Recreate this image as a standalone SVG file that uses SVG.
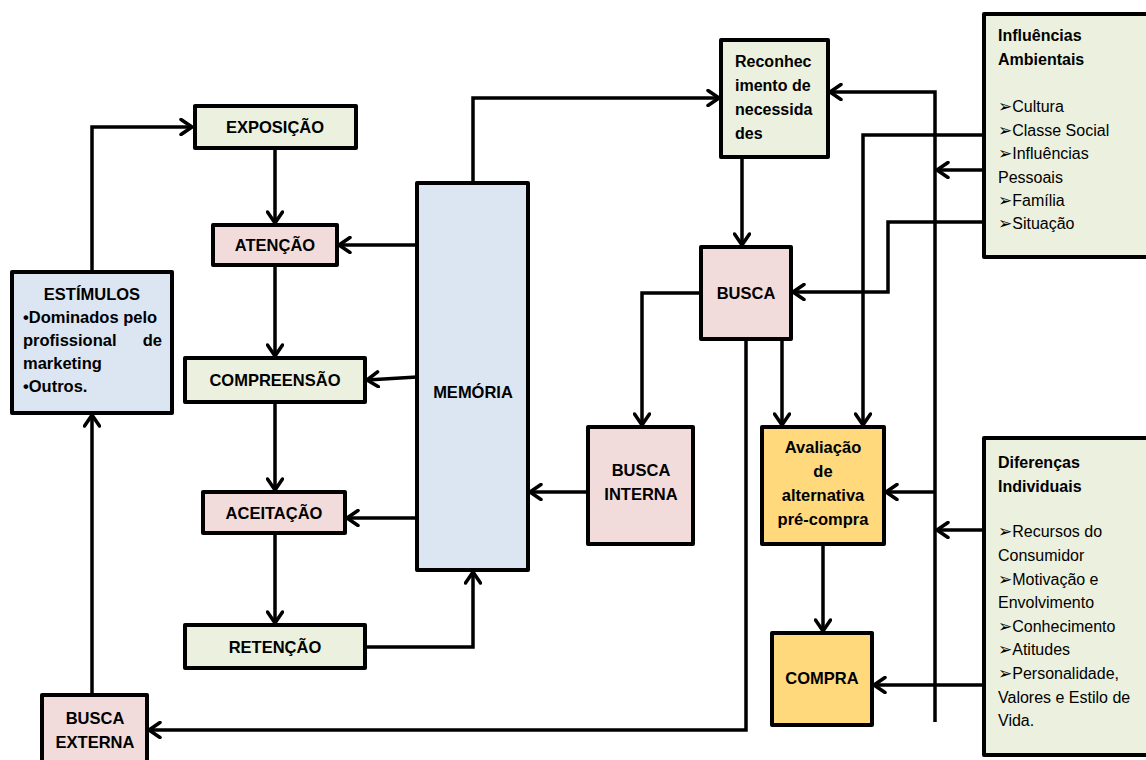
<svg xmlns="http://www.w3.org/2000/svg" width="1146" height="760" viewBox="0 0 1146 760">
<defs>
<style>
.box{stroke:#000;stroke-width:4;stroke-linejoin:round}
.g{fill:#EBF1DE}.p{fill:#F2DCDB}.b{fill:#DCE6F2}.y{fill:#FFD97C}
.t{font-family:"Liberation Sans",Arial,sans-serif;font-size:16.5px;font-weight:bold;fill:#000;text-anchor:middle}
.tl{font-family:"Liberation Sans",Arial,sans-serif;font-size:16px;fill:#000}
.bd{font-weight:bold}
.bul{font-family:"DejaVu Sans",sans-serif;font-size:17px}
.c{fill:none;stroke:#000;stroke-width:3.5;marker-end:url(#ah)}
</style>
<marker id="ah" viewBox="0 0 16 18" refX="13" refY="9" markerWidth="16" markerHeight="18" markerUnits="userSpaceOnUse" orient="auto">
<path d="M2,1.5 L13,9 L2,16.5" fill="none" stroke="#000" stroke-width="3.5" stroke-linecap="round" stroke-linejoin="round"/>
</marker>
</defs>

<g id="connectors">
<path class="c" d="M92,272 V127 H192"/>
<path class="c" d="M275,147 V223"/>
<path class="c" d="M275,265 V356"/>
<path class="c" d="M275,402 V490"/>
<path class="c" d="M275,533 V623"/>
<path class="c" d="M365,647 H473 V572"/>
<path class="c" d="M417,245 H339"/>
<path class="c" d="M417,377 L367,380"/>
<path class="c" d="M417,518 H347"/>
<path class="c" d="M473,183 V98 H719"/>
<path class="c" d="M742,157 V245"/>
<path class="c" d="M701,293 H642 V425"/>
<path class="c" d="M588,492 H530"/>
<path class="c" d="M746,339 V730 H149"/>
<path class="c" d="M92,695 V415"/>
<path class="c" d="M782,339 V425"/>
<path class="c" d="M823,544 V631"/>
<path class="c" d="M984,135 H863 V425"/>
<path class="c" d="M935,722 V92 H830"/>
<path class="c" d="M984,170 H937"/>
<path class="c" d="M984,222 H888 V292 H793"/>
<path class="c" d="M984,530 H937"/>
<path class="c" d="M935,492 H886"/>
<path class="c" d="M984,685 H874"/>
</g>

<g id="estimulos">
<rect class="box b" x="12" y="272" width="160" height="141"/>
<text class="t" x="92" y="300">ESTÍMULOS</text>
<text class="tl bd" x="23" y="323" style="font-size:16.5px">•Dominados pelo</text>
<text class="tl bd" x="23" y="346" style="font-size:16.5px">profissional</text>
<text class="tl bd" x="162" y="346" text-anchor="end" style="font-size:16.5px">de</text>
<text class="tl bd" x="23" y="369" style="font-size:16.5px">marketing</text>
<text class="tl bd" x="23" y="392" style="font-size:16.5px">•Outros.</text>
</g>

<g id="exposicao">
<rect class="box g" x="195" y="106" width="161" height="42"/>
<text class="t" x="275" y="133">EXPOSIÇÃO</text>
</g>
<g id="atencao">
<rect class="box p" x="213" y="225" width="124" height="40"/>
<text class="t" x="275" y="251">ATENÇÃO</text>
</g>
<g id="compreensao">
<rect class="box g" x="185" y="358" width="180" height="44"/>
<text class="t" x="275" y="386">COMPREENSÃO</text>
</g>
<g id="aceitacao">
<rect class="box p" x="203" y="492" width="142" height="41"/>
<text class="t" x="274" y="519">ACEITAÇÃO</text>
</g>
<g id="retencao">
<rect class="box g" x="185" y="625" width="180" height="43"/>
<text class="t" x="275" y="653">RETENÇÃO</text>
</g>
<g id="memoria">
<rect class="box b" x="417" y="183" width="111" height="387"/>
<text class="t" x="473" y="398">MEMÓRIA</text>
</g>
<g id="busca-externa">
<rect class="box p" x="42" y="695" width="105" height="75"/>
<text class="t" x="95" y="724">BUSCA</text>
<text class="t" x="95" y="748">EXTERNA</text>
</g>
<g id="reconhecimento">
<rect class="box g" x="721" y="40" width="107" height="117"/>
<text class="tl bd" x="735" y="67">Reconhec</text>
<text class="tl bd" x="735" y="91">imento de</text>
<text class="tl bd" x="735" y="115">necessida</text>
<text class="tl bd" x="735" y="139">des</text>
</g>
<g id="busca">
<rect class="box p" x="701" y="247" width="90" height="92"/>
<text class="t" x="746" y="299">BUSCA</text>
</g>
<g id="busca-interna">
<rect class="box p" x="588" y="427" width="105" height="117"/>
<text class="t" x="641" y="476">BUSCA</text>
<text class="t" x="641" y="500">INTERNA</text>
</g>
<g id="avaliacao">
<rect class="box y" x="762" y="427" width="122" height="117"/>
<text class="t" x="823" y="453">Avaliação</text>
<text class="t" x="823" y="477">de</text>
<text class="t" x="823" y="501">alternativa</text>
<text class="t" x="823" y="525">pré-compra</text>
</g>
<g id="compra">
<rect class="box y" x="772" y="633" width="100" height="92"/>
<text class="t" x="822" y="684">COMPRA</text>
</g>
<g id="influencias">
<rect class="box g" x="984" y="14" width="170" height="243"/>
<text class="tl bd" x="998" y="41">Influências</text>
<text class="tl bd" x="998" y="65">Ambientais</text>
<text class="tl" x="998" y="112"><tspan class="bul">➢</tspan>Cultura</text>
<text class="tl" x="998" y="136"><tspan class="bul">➢</tspan>Classe Social</text>
<text class="tl" x="998" y="159"><tspan class="bul">➢</tspan>Influências</text>
<text class="tl" x="998" y="183">Pessoais</text>
<text class="tl" x="998" y="206"><tspan class="bul">➢</tspan>Família</text>
<text class="tl" x="998" y="229"><tspan class="bul">➢</tspan>Situação</text>
</g>
<g id="diferencas">
<rect class="box g" x="984" y="438" width="170" height="317"/>
<text class="tl bd" x="998" y="468">Diferenças</text>
<text class="tl bd" x="998" y="492">Individuais</text>
<text class="tl" x="998" y="537"><tspan class="bul">➢</tspan>Recursos do</text>
<text class="tl" x="998" y="561">Consumidor</text>
<text class="tl" x="998" y="585"><tspan class="bul">➢</tspan>Motivação e</text>
<text class="tl" x="998" y="608">Envolvimento</text>
<text class="tl" x="998" y="632"><tspan class="bul">➢</tspan>Conhecimento</text>
<text class="tl" x="998" y="655"><tspan class="bul">➢</tspan>Atitudes</text>
<text class="tl" x="998" y="679"><tspan class="bul">➢</tspan>Personalidade,</text>
<text class="tl" x="998" y="703">Valores e Estilo de</text>
<text class="tl" x="998" y="726">Vida.</text>
</g>
</svg>
